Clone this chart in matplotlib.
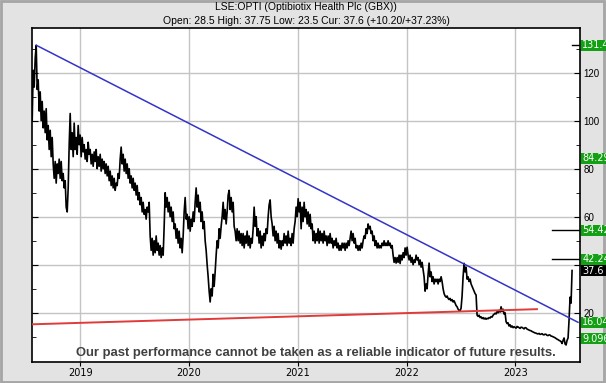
import matplotlib
matplotlib.use('Agg')
import matplotlib.pyplot as plt
import matplotlib.dates as mdates
import matplotlib.transforms as mtransforms
from matplotlib.patches import Rectangle
import pandas as pd

title = 'LSE:OPTI (Optibiotix Health Plc (GBX))'
subtitle = 'Open: 28.5 High: 37.75 Low: 23.5 Cur: 37.6 (+10.20/+37.23%)'
disclaimer = 'Our past performance cannot be taken as a reliable indicator of future results.'

# closing prices (GBX), sampled evenly between first_day and last_day
first_day, last_day = '2018-07-23', '2023-07-11'
close = [
    100, 121, 114, 126, 131.4, 113, 117, 104, 112, 100,
    108, 97, 104, 95, 105, 92, 98, 88, 96, 85,
    93, 82, 76, 83, 74, 82, 78, 84, 76, 83,
    75, 78, 72, 75, 64, 62, 72, 90, 103, 88,
    95, 85, 99, 88, 93, 86, 98, 90, 94, 85,
    93, 87, 90, 84, 88, 83, 91, 86, 88, 82,
    86, 81, 87, 83, 88, 80, 85, 81, 86, 79,
    84, 80, 83, 78, 82, 77, 81, 75, 79, 73,
    77, 72, 76, 71, 74, 73, 78, 76, 84, 89,
    82, 86, 79, 84, 78, 82, 76, 80, 74, 77,
    72, 76, 71, 74, 69, 73, 67, 70, 65, 68,
    62, 66, 61, 63, 59, 64, 62, 66, 52, 46,
    51, 44, 50, 45, 52, 46, 49, 44, 48, 43,
    47, 44, 56, 70, 64, 68, 62, 66, 60, 64,
    58, 62, 55, 57, 51, 55, 49, 54, 47, 51,
    45, 52, 62, 68, 59, 61, 55, 60, 54, 59,
    56, 62, 58, 66, 72, 64, 69, 62, 66, 58,
    62, 55, 58, 50, 46, 40, 35, 29, 24.5, 30,
    27, 36, 31, 37, 44, 50, 47, 55, 51, 56,
    60, 66, 59, 63, 57, 62, 69, 71, 63, 68,
    62, 66, 56, 54, 50, 55, 50, 54, 49, 53,
    48, 53, 47, 52, 49, 54, 48, 52, 47, 51,
    49, 55, 64, 56, 60, 52, 55, 49, 54, 47,
    52, 48, 53, 50, 55, 53, 60, 65, 67, 60,
    57, 52, 56, 50, 54, 49, 53, 47, 50, 46.5,
    50, 48, 53, 49, 52, 48, 54, 49, 51, 48,
    53, 49, 55, 58, 64, 60, 67.5, 62, 66, 55,
    64, 58, 66, 60, 63, 57, 62, 56, 61, 55,
    57, 50, 54, 49, 53, 50, 55, 49, 54, 50,
    53, 49, 54, 50, 52, 48, 52, 49, 53, 49,
    51, 47, 50, 48, 51, 47, 49, 46, 48, 46,
    49, 47, 49, 46, 49, 47, 50, 48, 51, 54,
    50, 53, 49, 51, 47, 48, 46, 48, 46, 49,
    47, 50, 52, 51, 55, 53, 57, 55, 56, 53,
    54, 50, 52, 48, 50, 47, 49, 47, 48, 47,
    49, 48, 50, 48, 49, 48, 50, 48, 49, 47,
    48, 44, 41, 43, 40.7, 43, 41, 44, 40.5, 44,
    42, 45, 43, 47, 44, 47.3, 44, 42, 44, 41,
    43, 40, 42, 41, 44, 42, 43, 40, 42, 39,
    41, 38, 35, 29, 32, 30, 36, 40.7, 35, 37,
    33, 35, 32, 34, 33, 34, 32, 34, 33, 35,
    33, 30, 28, 27, 26.5, 27, 26, 25.5, 26, 25,
    25.5, 24.5, 25, 24, 23, 22.5, 21.5, 21, 20.7, 22,
    27, 35, 40.6, 37, 39, 34, 35, 33, 34, 32,
    31, 30, 29, 28, 27.4, 19, 18.5, 19, 18, 18.3,
    17.6, 18, 17.4, 17.8, 17.3, 17.7, 17.5, 18, 17.8, 18.4,
    18.2, 19, 19.4, 19.8, 19.5, 20.5, 20, 21, 20.3, 22.5,
    20.5, 21.5, 19.5, 20, 16.3, 15.5, 15.8, 14.5, 15, 14,
    14.5, 13.8, 14.2, 13.9, 13.6, 14.3, 14.1, 13.8, 13.5, 14,
    13.9, 13.6, 13.3, 13.8, 13.7, 13.2, 13, 12.8, 12.6, 12.5,
    12.2, 12, 11.8, 11.6, 11.5, 11.3, 11.2, 11.4, 11.0, 11.1,
    11.3, 10.9, 10.8, 11.1, 11, 10.6, 10.5, 10.8, 10.7, 10.3,
    10.2, 10, 9.8, 9.6, 9.3, 9.0, 8.8, 8.5, 8.3, 8,
    7.2, 8.5, 9.5, 7, 6.6, 8.5, 9.5, 17, 26.5, 24,
    37.6,
]

# trend lines
down_dates = ['2018-08-06', '2023-07-31']
down_values = [131.4, 16.04]
support_dates = ['2018-07-22', '2023-03-15']
support_values = [15.2, 21.5]

# target levels shown on the right edge
level_values = [131.4, 84.29, 54.42, 42.24, 16.04, 9.096]
level_labels = ['131.4', '84.29', '54.42', '42.24', '16.04', '9.096']
cur_value = 37.6
cur_label = '37.6'
marked_levels = [131.4, 54.42, 42.24]

years = [2019, 2020, 2021, 2022, 2023]
y_ticks = [20, 40, 60, 80, 100, 120]
y_labels = ['20', '', '60', '80', '100', '120']

plt.rcParams['font.family'] = ['Liberation Sans', 'DejaVu Sans']

dates = pd.date_range(first_day, last_day, periods=len(close))

fig = plt.figure(figsize=(6.06, 3.83), dpi=100, facecolor='#e3e3e3')
fig.patches.append(Rectangle((0.002, 0.003), 0.995, 0.994, transform=fig.transFigure,
                             fill=False, edgecolor='#a5a5a5', lw=2, zorder=-1))

ax = fig.add_axes([31.6 / 606, 21 / 383, 547.9 / 606, 334 / 383])
ax.set_facecolor('white')

ax.plot(dates, close, color='black', lw=1.2, zorder=3)
ax.plot(pd.to_datetime(down_dates), down_values, color='#3434c8', lw=1.1, zorder=4)
ax.plot(pd.to_datetime(support_dates), support_values, color='#e03a3a', lw=1.4, zorder=4)

ax.set_xlim(pd.Timestamp('2018-07-21'), pd.Timestamp('2023-08-05'))
ax.set_ylim(-0.5, 138.6)

ax.set_xticks([pd.Timestamp(f'{y}-01-01') for y in years])
ax.xaxis.set_major_formatter(mdates.DateFormatter('%Y'))
for lab in ax.get_xticklabels():
    lab.set_family('DejaVu Sans')
ax.set_yticks(y_ticks)
ax.set_yticklabels(y_labels)
ax.set_yticks(range(10, 140, 20), minor=True)
ax.grid(True, color='#c4c4c4', lw=1.0, zorder=0)
ax.tick_params(axis='y', left=True, right=True, labelleft=False, labelright=True,
               direction='in', length=4, labelsize=7, pad=3)
ax.tick_params(axis='y', which='minor', left=True, right=True, direction='in', length=3)
ax.tick_params(axis='x', direction='out', length=3, labelsize=7, pad=1)
for s in ax.spines.values():
    s.set_linewidth(1.2)
    s.set_color('black')

# short markers for the target levels
for v in marked_levels:
    start = 0.986 if v > 100 else 0.95
    ax.axhline(v, xmin=start, xmax=1.0, color='black', lw=1.0, zorder=5)

trans = mtransforms.blended_transform_factory(ax.transAxes, ax.transData)


def level_box(value, label, colour):
    ax.add_patch(Rectangle((1.002, value - 2.3), 0.06, 4.6, transform=trans,
                           facecolor=colour, edgecolor='none', clip_on=False, zorder=6))
    ax.text(1.005, value, label, transform=trans, va='center', ha='left', fontsize=7,
            family='DejaVu Sans', color='white', clip_on=False, zorder=7)


for v, lab in zip(level_values, level_labels):
    level_box(v, lab, '#14a014')
level_box(cur_value, cur_label, 'black')

ax.text(0.519, 0.028, disclaimer, transform=ax.transAxes, ha='center', va='center',
        fontsize=9.4, fontweight='bold', family='Liberation Sans',
        color='#404040', zorder=7)

fig.text(306 / 606, 1 - 7.5 / 383, title, ha='center', va='center', fontsize=7.5)
fig.text(306 / 606, 1 - 21.5 / 383, subtitle, ha='center', va='center', fontsize=7.5)

fig.savefig('out.png', dpi=100, facecolor=fig.get_facecolor())
